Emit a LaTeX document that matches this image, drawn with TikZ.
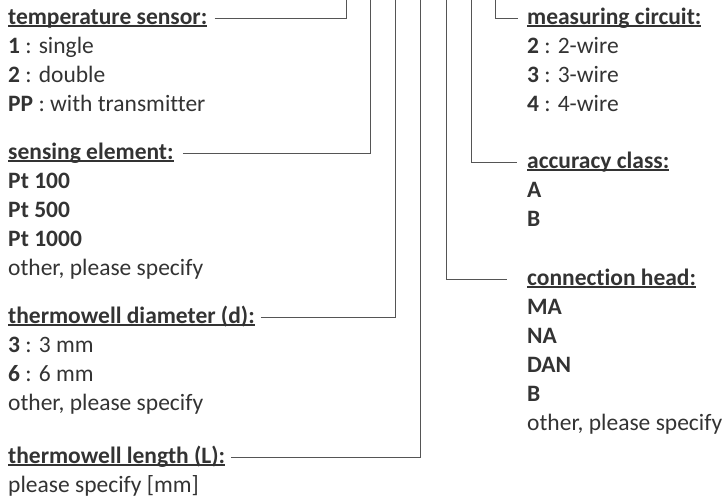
\documentclass[tikz,border=0pt]{standalone}
\usepackage{fontspec}
\setmainfont{Carlito}[Ligatures=NoCommon]
\definecolor{txt}{HTML}{333333}
\definecolor{lead}{HTML}{555555}
\newcommand{\hd}[1]{\setbox0\hbox{\bfseries #1}\rlap{\rule[-2.6pt]{\wd0}{1.5pt}}\box0}

\begin{document}
\begin{tikzpicture}[x=1pt, y=-1pt,
    every node/.style={anchor=base west, inner sep=0pt, text=txt, font=\fontsize{23.5}{29}\selectfont},
    leadline/.style={draw=lead, line width=1pt}]
    \useasboundingbox (0,0) rectangle (728,499);

    % left column
    \node (tsens) at (8,24) {\hd{temperature sensor:}};
    \node (tsa) at (8,53) {\textbf{1} : single};
    \node (tsb) at (8,82) {\textbf{2} : double};
    \node (tsc) at (8,111) {\textbf{PP} : with transmitter};

    \node (selem) at (8,159) {\hd{sensing element:}};
    \node (sea) at (8,188) {\textbf{Pt 100}};
    \node (seb) at (8,217) {\textbf{Pt 500}};
    \node (sec) at (8,246) {\textbf{Pt 1000}};
    \node (sed) at (8,275) {other, please specify};

    \node (tdiam) at (8,323) {\hd{thermowell diameter (d):}};
    \node (tda) at (8,352) {\textbf{3} : 3 mm};
    \node (tdb) at (8,381) {\textbf{6} : 6 mm};
    \node (tdc) at (8,410) {other, please specify};

    \node (tlen) at (8,463) {\hd{thermowell length (L):}};
    \node (tla) at (8,492) {please specify [mm]};

    % right column
    \node (mcirc) at (527,24) {\hd{measuring circuit:}};
    \node (mca) at (527,53) {\textbf{2} : 2-wire};
    \node (mcb) at (527,82) {\textbf{3} : 3-wire};
    \node (mcc) at (527,111) {\textbf{4} : 4-wire};

    \node (aclass) at (527,168) {\hd{accuracy class:}};
    \node (aca) at (527,197) {\textbf{A}};
    \node (acb) at (527,226) {\textbf{B}};

    \node (chead) at (527,285) {\hd{connection head:}};
    \node (cha) at (527,314) {\textbf{MA}};
    \node (chb) at (527,343) {\textbf{NA}};
    \node (chc) at (527,372) {\textbf{DAN}};
    \node (chd) at (527,401) {\textbf{B}};
    \node (che) at (527,430) {other, please specify};

    % leader lines
    \coordinate (top1) at (346,0);
    \coordinate (top2) at (370,0);
    \coordinate (top3) at (395,0);
    \coordinate (top4) at (420,0);
    \coordinate (top5) at (446,0);
    \coordinate (top6) at (471,0);
    \coordinate (top7) at (495,0);

    \draw[leadline] ([xshift=7pt, yshift=6pt]tsens.base east) -| (top1);
    \draw[leadline] ([xshift=9pt, yshift=6pt]selem.base east) -| (top2);
    \draw[leadline] ([xshift=6pt, yshift=6pt]tdiam.base east) -| (top3);
    \draw[leadline] ([xshift=6pt, yshift=6pt]tlen.base east) -| (top4);
    \draw[leadline] (top5) |- ([xshift=-20pt, yshift=6pt]chead.base west);
    \draw[leadline] (top6) |- ([xshift=-10pt, yshift=6pt]aclass.base west);
    \draw[leadline] (top7) |- ([xshift=-9pt, yshift=6pt]mcirc.base west);
\end{tikzpicture}
\end{document}
